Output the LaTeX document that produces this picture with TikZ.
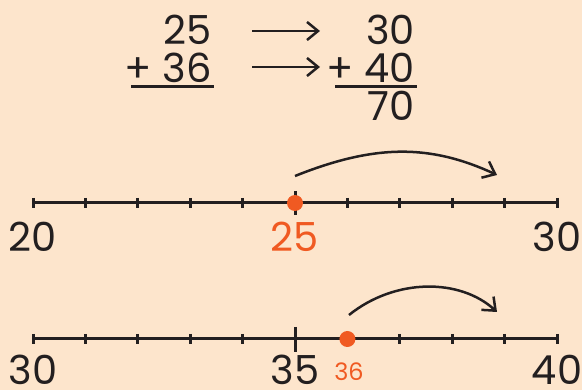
\documentclass[tikz,border=0pt]{standalone}
\usepackage{fontspec}
\setmainfont{Poppins}
\usetikzlibrary{arrows.meta, positioning, calc}
\definecolor{mypeach}{RGB}{253,229,204}
\definecolor{myink}{RGB}{35,31,32}
\definecolor{myorange}{RGB}{240,90,34}
\tikzset{
  num/.style={font=\fontsize{40}{40}\selectfont, text=myink, inner sep=0pt},
  smallnum/.style={font=\fontsize{24}{24}\selectfont, text=myorange, inner sep=0pt},
  arrow/.style={-{Straight Barb[length=11pt, width=18pt]}, line width=2.5pt, color=myink},
  jump/.style={-{Straight Barb[length=11pt, width=18pt]}, line width=2.5pt, color=myink},
  sumline/.style={line width=3pt, color=myink},
  axis/.style={line width=3pt, color=myink},
  dot/.style={circle, fill=myorange, minimum size=16pt, inner sep=0pt}
}
\begin{document}
\begin{tikzpicture}[x=1pt, y=-1pt]
  \fill[mypeach] (0,0) rectangle (582,390);
  \useasboundingbox (0,0) rectangle (582,390);

  % the sum and its rounded version
  \node[num, anchor=base east] (a25) at (212,45) {25};
  \node[num, anchor=base east] (a36) at (212,83) {+ 36};
  \node[num, anchor=base east] (b30) at (415,45) {30};
  \node[num, anchor=base east] (b40) at (415,83) {+ 40};
  \node[num, anchor=base east] (b70) at (415,121) {70};
  \draw[sumline] (131,87) -- (214,87);
  \draw[sumline] (335,87) -- (417,87);

  \coordinate (r1s) at (252,31);
  \coordinate (r1e) at (320,31);
  \coordinate (r2s) at (252,67);
  \coordinate (r2e) at (320,67);
  \draw[arrow] (r1s) -- (r1e);
  \draw[arrow] (r2s) -- (r2e);

  % first number line, 20 to 30
  \draw[axis] (33,203) coordinate (p0) -- (557,203) coordinate (p10);
  \foreach \i in {0,...,10} {
    \coordinate (p\i) at ({33+52.4*\i},203);
    \ifnum\i=5
      \draw[axis] ($(p\i)+(0,-12)$) -- ($(p\i)+(0,12)$);
    \else
      \draw[axis] ($(p\i)+(0,-5)$) -- ($(p\i)+(0,5)$);
    \fi
  }
  \node[num, anchor=base] (l20) at (33,252) {20};
  \node[num, anchor=base, text=myorange] (l25) at (295,252) {25};
  \node[num, anchor=base] (l30) at (557,252) {30};
  \node[dot] (d25) at (p5) {};
  \coordinate (j1s) at (295,176);
  \coordinate (j1e) at (497,175);
  \draw[jump] (j1s) .. controls (375,144) and (430,144) .. (j1e);

  % second number line, 30 to 40
  \draw[axis] (33,339) coordinate (q0) -- (557,339) coordinate (q10);
  \foreach \i in {0,...,10} {
    \coordinate (q\i) at ({33+52.4*\i},339);
    \ifnum\i=5
      \draw[axis] ($(q\i)+(0,-12)$) -- ($(q\i)+(0,13)$);
    \else
      \draw[axis] ($(q\i)+(0,-5)$) -- ($(q\i)+(0,5)$);
    \fi
  }
  \node[num, anchor=base] (m30) at (33,385) {30};
  \node[num, anchor=base] (m35) at (295,385) {35};
  \node[smallnum, anchor=base] (m36) at (349,381) {36};
  \node[num, anchor=base] (m40) at (557,385) {40};
  \node[dot] (d36) at (q6) {};
  \coordinate (j2s) at (349,315);
  \coordinate (j2e) at (497,312);
  \draw[jump] (j2s) .. controls (395,278) and (460,278) .. (j2e);
\end{tikzpicture}
\end{document}
